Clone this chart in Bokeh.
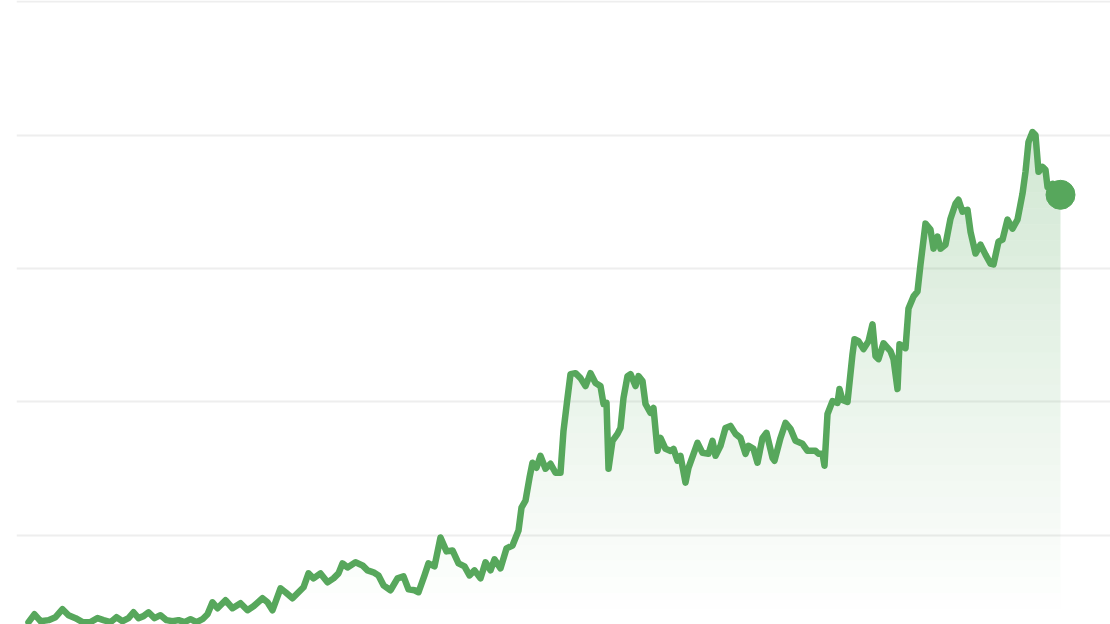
import numpy as np
from bokeh.plotting import figure
from bokeh.models import Range1d, FixedTicker
from bokeh.embed import file_html
from bokeh.resources import INLINE

# Time index (days) and series values
days = [0, 6, 12, 20, 27, 34, 40, 47, 54, 62, 69, 75, 82, 88, 94, 100, 105, 110, 115, 120,
        126, 132, 138, 144, 150, 156, 162, 168, 174, 179, 184, 189, 197, 204, 212, 219, 225, 234, 239, 244,
        252, 257, 264, 270, 275, 280, 285, 292, 299, 305, 310, 314, 319, 327, 334, 339, 345, 350, 355, 362,
        369, 375, 380, 386, 390, 396, 400, 406, 412, 418, 424, 430, 436, 441, 446, 452, 457, 462, 466, 472,
        478, 484, 490, 493, 497, 501, 504, 508, 512, 517, 522, 527, 532, 535, 539, 542, 547, 552, 557, 562,
        567, 572, 575, 578, 580, 584, 589, 592, 595, 599, 602, 607, 610, 614, 617, 622, 625, 629, 632, 637,
        642, 645, 649, 652, 657, 660, 669, 674, 680, 684, 687, 692, 697, 702, 707, 712, 717, 720, 725, 729,
        734, 738, 744, 746, 752, 757, 762, 767, 774, 779, 784, 787, 790, 794, 796, 799, 804, 809, 811, 814,
        819, 824, 826, 830, 835, 840, 844, 847, 850, 855, 862, 865, 869, 871, 877, 880, 885, 889, 892, 897,
        902, 905, 909, 912, 917, 922, 927, 930, 934, 939, 942, 947, 952, 957, 962, 965, 970, 974, 979, 984,
        989, 994, 997, 1000, 1004, 1007, 1010, 1014, 1017, 1019, 1024, 1032]
values = [35.1, 41.0, 35.8, 36.6, 38.8, 44.8, 40.3, 38.1, 35.1, 35.1, 38.1, 36.6, 35.1, 38.8, 35.8, 38.1, 42.5, 38.1, 39.6, 42.5,
          38.1, 40.3, 36.6, 35.8, 36.6, 35.1, 37.3, 35.1, 37.3, 41.0, 50.0, 45.5, 51.5, 45.5, 49.3, 44.0, 47.0, 53.0, 50.0, 44.0,
          60.4, 57.5, 53.0, 57.5, 61.2, 71.6, 67.9, 71.6, 64.9, 67.9, 71.6, 79.1, 76.1, 79.9, 77.6, 73.9, 72.4, 70.1, 62.7, 59.0,
          67.9, 69.4, 59.7, 59.0, 57.5, 70.1, 79.1, 76.9, 98.5, 88.1, 88.8, 79.1, 76.9, 70.1, 73.9, 67.9, 79.9, 73.9, 82.1, 75.4,
          90.3, 92.5, 103.7, 120.9, 126.1, 143.3, 154.5, 150.7, 159.7, 150.0, 153.7, 147.0, 147.0, 178.4, 203.0, 220.9, 221.6, 217.9, 211.9, 221.6,
          214.2, 211.9, 198.5, 199.3, 150.0, 170.9, 176.1, 180.6, 203.0, 219.4, 220.9, 211.9, 219.4, 215.7, 198.5, 191.8, 195.5, 163.4, 173.1, 164.9,
          163.4, 164.9, 156.0, 159.7, 139.6, 150.7, 169.4, 161.9, 161.2, 170.9, 159.7, 167.2, 180.6, 182.1, 176.1, 173.1, 161.2, 167.2, 164.9, 154.5,
          173.1, 176.9, 158.2, 156.0, 173.1, 184.3, 179.9, 170.9, 168.7, 163.4, 163.4, 163.4, 161.2, 161.2, 152.2, 191.0, 200.7, 199.3, 209.7, 201.5,
          200.0, 235.8, 247.0, 245.5, 239.6, 245.5, 258.2, 234.3, 232.1, 244.0, 238.1, 232.1, 209.7, 243.3, 240.3, 270.1, 279.1, 282.8, 303.0, 333.6,
          329.1, 314.9, 323.9, 314.9, 317.9, 337.3, 348.5, 351.5, 342.5, 344.0, 327.6, 311.2, 317.9, 310.4, 303.7, 303.0, 320.1, 321.6, 336.6, 329.9,
          336.6, 356.0, 372.4, 394.8, 402.2, 400.0, 372.4, 376.1, 373.9, 361.2, 363.4, 355.2]
grid_values = [100, 200, 300, 400, 500]

GREEN = "#57a75c"

x = np.array(days, dtype=float)
y = np.array(values, dtype=float)

p = figure(width=1110, height=624, output_backend="svg", toolbar_location=None,
           x_range=Range1d(-12, 1082), y_range=Range1d(33.33, 500.75),
           min_border_left=16, min_border_right=0, min_border_top=0, min_border_bottom=0)
p.xaxis.visible = False
p.yaxis.visible = False
p.xgrid.visible = False
p.ygrid.ticker = FixedTicker(ticks=grid_values)
p.ygrid.grid_line_color = "#eeeeee"
p.ygrid.grid_line_width = 2
p.outline_line_color = None
p.background_fill_color = "white"
p.border_fill_color = "white"

# vertical gradient fill: non-overlapping bands, opacity rising with height
edges = np.arange(33.0, 420.0, 12.0)
top_alpha = 0.27
for lo, hi in zip(edges[:-1], edges[1:]):
    mid = 0.5 * (lo + hi)
    a = max(0.0, top_alpha * (mid - 40.0) / (400.0 - 40.0))
    a = round(min(a, top_alpha), 3)
    if a <= 0.004:
        continue
    p.varea(x=x, y1=np.minimum(lo, y), y2=np.minimum(hi, y),
            fill_color=GREEN, fill_alpha=a)

p.line(x, y, line_color=GREEN, line_width=6.5, line_join="round", line_cap="round")
p.scatter([days[-1]], [values[-1]], size=29, fill_color=GREEN, line_color=GREEN)

open("out.html", "w").write(file_html(p, INLINE))
